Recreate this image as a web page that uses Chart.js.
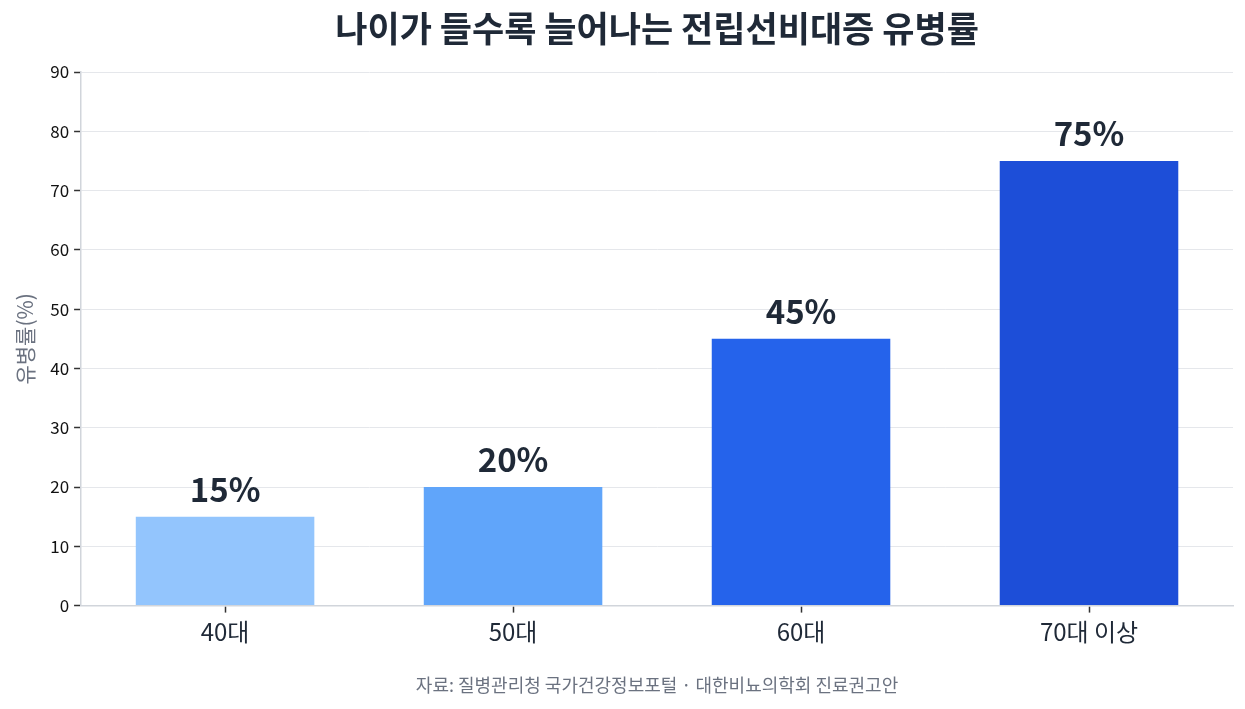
<!DOCTYPE html>
<html>
<head>
<meta charset="utf-8">
<script src="https://cdn.jsdelivr.net/npm/chart.js@4.4.1/dist/chart.umd.min.js"></script>
<style>
  html, body { margin: 0; padding: 0; background: #ffffff; }
  #wrap { width: 1245px; height: 709px; position: relative; }
</style>
</head>
<body>
<div id="wrap"><canvas id="c" width="1245" height="709"></canvas></div>
<script>
const categories = ['40대', '50대', '60대', '70대 이상'];
const prevalence = [15, 20, 45, 75];
const barColors = ['#93c5fd', '#60a5fa', '#2563eb', '#1d4ed8'];
const yTicks = [0, 10, 20, 30, 40, 50, 60, 70, 80, 90];
const titleText = '나이가 들수록 늘어나는 전립선비대증 유병률';
const yAxisTitle = '유병률(%)';
const sourceText = '자료: 질병관리청 국가건강정보포털 · 대한비뇨의학회 진료권고안';

const FONT = '"Noto Sans CJK KR", "Noto Sans", sans-serif';

const valueLabels = {
  id: 'valueLabels',
  afterDatasetsDraw(chart) {
    const ctx = chart.ctx;
    const meta = chart.getDatasetMeta(0);
    ctx.save();
    ctx.font = 'bold 33px ' + FONT;
    ctx.fillStyle = '#1f2937';
    ctx.textAlign = 'center';
    ctx.textBaseline = 'alphabetic';
    meta.data.forEach((bar, i) => {
      ctx.fillText(prevalence[i] + '%', bar.x, bar.y - 15);
    });
    ctx.restore();
  }
};

new Chart(document.getElementById('c'), {
  type: 'bar',
  data: {
    labels: categories,
    datasets: [{
      data: prevalence,
      backgroundColor: barColors,
      borderWidth: 0,
      categoryPercentage: 1.0,
      barPercentage: 0.62
    }]
  },
  options: {
    responsive: false,
    animation: false,
    devicePixelRatio: 1,
    layout: { padding: { left: 12, right: 12, top: 6, bottom: 13 } },
    plugins: {
      legend: { display: false },
      tooltip: { enabled: false },
      title: {
        display: true,
        text: titleText,
        fullSize: false,
        color: '#1f2937',
        font: { family: FONT, size: 35, weight: 'bold' },
        padding: { top: 2, bottom: 22 }
      },
      subtitle: {
        display: true,
        text: sourceText,
        position: 'bottom',
        fullSize: false,
        color: '#6b7280',
        font: { family: FONT, size: 18 },
        padding: { top: 23, bottom: 0 }
      }
    },
    scales: {
      x: {
        grid: {
          display: true,
          drawOnChartArea: false,
          drawTicks: true,
          offset: false,
          tickLength: 7,
          tickColor: '#333333',
          tickWidth: 1.5
        },
        border: { display: true, color: '#d1d5db', width: 1.5 },
        ticks: {
          color: '#1f2937',
          font: { family: FONT, size: 24 },
          padding: 5
        }
      },
      y: {
        min: 0,
        max: 90,
        afterBuildTicks(axis) { axis.ticks = yTicks.map(v => ({ value: v })); },
        grid: {
          color: '#e5e7eb',
          lineWidth: 1,
          tickLength: 7,
          tickColor: '#333333',
          tickWidth: 1.5
        },
        border: { display: true, color: '#d1d5db', width: 1.5 },
        ticks: {
          color: '#111111',
          font: { family: FONT, size: 17 },
          padding: 5
        },
        title: {
          display: true,
          text: yAxisTitle,
          color: '#6b7280',
          font: { family: FONT, size: 21 },
          padding: { top: 0, bottom: 8 }
        }
      }
    }
  },
  plugins: [valueLabels]
});
</script>
</body>
</html>
